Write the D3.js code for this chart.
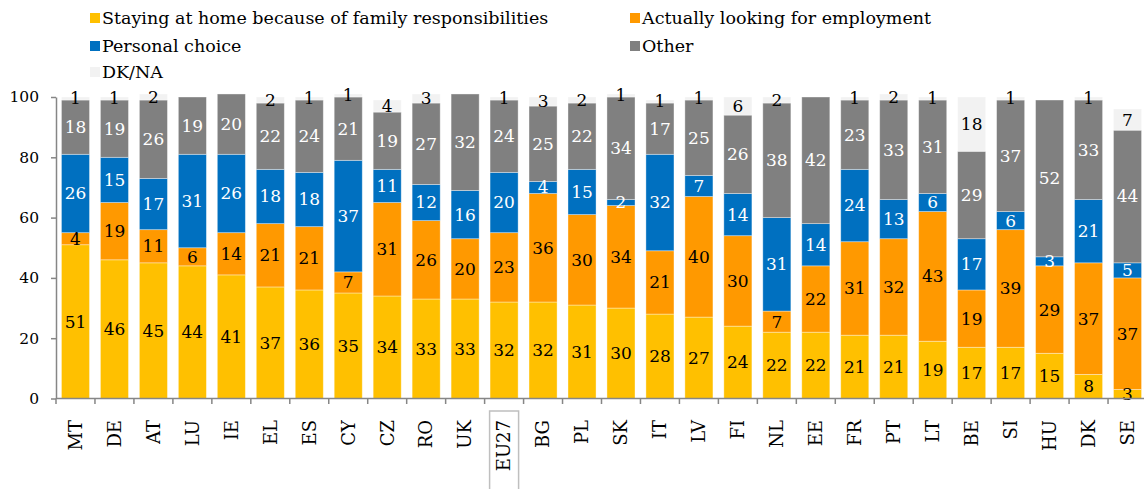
<!DOCTYPE html>
<html><head><meta charset="utf-8">
<script src="https://cdn.jsdelivr.net/npm/d3@7"></script>
<style>body{margin:0;background:#fff} svg{display:block} text{font-family:"DejaVu Serif",serif}</style>
</head><body><svg id="c" width="1144" height="489"></svg>
<script>
const countries = ["MT","DE","AT","LU","IE","EL","ES","CY","CZ","RO","UK","EU27","BG","PL","SK","IT","LV","FI","NL","EE","FR","PT","LT","BE","SI","HU","DK","SE"];
const family   = [51,46,45,44,41,37,36,35,34,33,33,32,32,31,30,28,27,24,22,22,21,21,19,17,17,15,8,3];
const looking  = [4,19,11,6,14,21,21,7,31,26,20,23,36,30,34,21,40,30,7,22,31,32,43,19,39,29,37,37];
const personal = [26,15,17,31,26,18,18,37,11,12,16,20,4,15,2,32,7,14,31,14,24,13,6,17,6,3,21,5];
const other    = [18,19,26,19,20,22,24,21,19,27,32,24,25,22,34,17,25,26,38,42,23,33,31,29,37,52,33,44];
const dkna     = [1,1,2,0,0,2,1,1,4,3,0,1,3,2,1,1,1,6,2,0,1,2,1,18,1,0,1,7];
const seriesNames = ["Staying at home because of family responsibilities","Actually looking for employment","Personal choice","Other","DK/NA"];
const yTicks = [0,20,40,60,80,100];

const colors = ["#FFC000","#FF9900","#0070C0","#808080","#F2F2F2"];
const labelColors = ["#000","#000","#fff","#fff","#000"];
const keys = ["family","looking","personal","other","dkna"];
const seriesArrays = [family,looking,personal,other,dkna];
const FONT = "DejaVu Serif";

const rows = countries.map((c,i)=>{
  const r = {country:c};
  keys.forEach((k,j)=> r[k] = seriesArrays[j][i]);
  return r;
});

const svg = d3.select("#c");
const x = d3.scaleBand().domain(countries).range([56,1147]).paddingInner(0.28).paddingOuter(0.14);
const y = d3.scaleLinear().domain([0,100]).range([398.5,97]);

const stacked = d3.stack().keys(keys)(rows);

const g = svg.append("g");
stacked.forEach((s,si)=>{
  const sg = g.append("g");
  sg.selectAll("rect").data(s).join("rect")
    .attr("x", d=>x(d.data.country))
    .attr("width", x.bandwidth())
    .attr("y", d=>y(d[1]))
    .attr("height", d=>Math.max(0,y(d[0])-y(d[1])))
    .attr("fill", colors[si])
    .attr("stroke","rgba(255,255,255,0.45)")
    .attr("stroke-width",0.8);
});
stacked.forEach((s,si)=>{
  g.append("g").selectAll("text").data(s.filter(d=>d.data[keys[si]]>0)).join("text")
    .attr("x", d=>x(d.data.country)+x.bandwidth()/2)
    .attr("y", d=>(y(d[0])+y(d[1]))/2)
    .attr("dy","0.35em")
    .attr("text-anchor","middle")
    .style("font-family",FONT)
    .attr("font-size",17)
    .attr("fill", labelColors[si])
    .text(d=>d.data[keys[si]]);
});

// y axis
const yAxis = svg.append("g").attr("transform","translate(56,0)")
  .call(d3.axisLeft(y).tickValues(yTicks).tickSize(5).tickSizeOuter(0).tickPadding(12));
yAxis.select(".domain").attr("stroke","#868686").attr("stroke-width",1.5);
yAxis.selectAll(".tick line").attr("stroke","#868686").attr("stroke-width",1.5);
yAxis.selectAll(".tick text").style("font-family",FONT).attr("font-size",15.5).attr("fill","#000");

// x axis
const gap = (x.step()-x.bandwidth())/2;
const xa = svg.append("g");
xa.append("line").attr("x1",56).attr("x2",1147).attr("y1",398.5).attr("y2",398.5)
  .attr("stroke","#868686").attr("stroke-width",1.5);
const bounds = countries.map(c=>x(c)-gap).concat([x(countries[countries.length-1])+x.bandwidth()+gap]);
xa.selectAll("line.t").data(bounds).join("line").attr("class","t")
  .attr("x1",d=>d).attr("x2",d=>d).attr("y1",398.5).attr("y2",404)
  .attr("stroke","#868686").attr("stroke-width",1.5);
xa.selectAll("text").data(countries).join("text")
  .attr("transform", d=>`translate(${x(d)+x.bandwidth()/2},420) rotate(-90)`)
  .attr("dy","0.35em")
  .attr("text-anchor","end")
  .style("font-family",FONT)
  .attr("font-size",18)
  .attr("fill","#000")
  .text(d=>d);
const eu = x("EU27")+x.bandwidth()/2;
xa.append("rect").attr("x",eu-14.5).attr("y",411).attr("width",29).attr("height",90)
  .attr("fill","none").attr("stroke","#BFBFBF").attr("stroke-width",1.5);

// legend
const legendPos = [[90,18],[630,18],[90,46],[630,46],[90,72]];
const lg = svg.append("g");
seriesNames.forEach((n,i)=>{
  const [lx,ly] = legendPos[i];
  lg.append("rect").attr("x",lx).attr("y",ly-5).attr("width",10).attr("height",10).attr("fill",colors[i]);
  lg.append("text").attr("x",lx+12).attr("y",ly).attr("dy","0.35em")
    .style("font-family",FONT).attr("font-size",17.5).attr("fill","#000").text(n);
});
</script></body></html>
